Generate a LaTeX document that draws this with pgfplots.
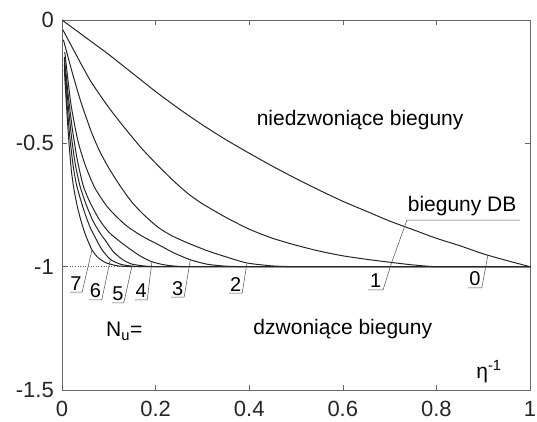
\documentclass[border=0pt]{standalone}
\usepackage{fontspec}
\setmainfont{Liberation Sans}
\usepackage{pgfplots}
\pgfplotsset{compat=1.18}
\tikzset{lbl/.style={anchor=base, inner sep=0pt, font=\fontsize{20}{22}\selectfont}}
\begin{document}
\begin{tikzpicture}
\fontsize{21}{24}\selectfont
\begin{axis}[
  scale only axis, width=468pt, height=370pt,
  xmin=0, xmax=1, ymin=-1.5, ymax=0,
  xtick={0,0.2,0.4,0.6,0.8,1}, xticklabels={0,0.2,0.4,0.6,0.8,1},
  ytick={-1.5,-1,-0.5,0}, yticklabels={-1.5,-1,-0.5,0},
  tick align=inside, major tick length=5pt,
  xtick pos=both, ytick pos=both,
  axis line style={black!60, line width=0.6pt},
  every tick/.style={black!60, line width=0.6pt},
  tick label style={font=\fontsize{22}{24}\selectfont, text=black!85},
  xticklabel style={yshift=-4pt},
  yticklabel style={xshift=-1pt},
  curve/.style={black!85, line width=1pt, no markers, smooth, tension=0.4},
  lead/.style={black!70, line width=0.5pt, no markers},
]
% dotted asymptote
\addplot[black!60, line width=0.6pt, dotted] coordinates {(0,-1) (1,-1)};
% curve 0
\addplot[curve] coordinates {(0,0)(0.05,-0.07)(0.1,-0.14)(0.15,-0.215)(0.2,-0.29)(0.25,-0.36)(0.3,-0.425)(0.35,-0.485)(0.4,-0.54)(0.45,-0.593)(0.5,-0.643)(0.55,-0.69)(0.6,-0.735)(0.65,-0.775)(0.7,-0.815)(0.75,-0.85)(0.8,-0.885)(0.85,-0.915)(0.9,-0.948)(0.95,-0.975)(1.0,-1.0)};
% curve 1
\addplot[curve] coordinates {(0.002,-0.04)(0.03,-0.14)(0.062,-0.25)(0.1,-0.355)(0.135,-0.44)(0.17,-0.52)(0.205,-0.59)(0.24,-0.655)(0.27,-0.705)(0.3,-0.745)(0.35,-0.8)(0.4,-0.848)(0.45,-0.885)(0.5,-0.913)(0.55,-0.937)(0.6,-0.956)(0.65,-0.97)(0.7,-0.982)(0.75,-0.993)(0.8,-1)(0.9,-1)(1,-1)};
% curve 2
\addplot[curve] coordinates {(0.003,-0.08)(0.02,-0.2)(0.04,-0.33)(0.062,-0.45)(0.08,-0.53)(0.1,-0.6)(0.125,-0.675)(0.15,-0.74)(0.175,-0.79)(0.205,-0.84)(0.235,-0.875)(0.27,-0.905)(0.31,-0.935)(0.35,-0.96)(0.395,-0.985)(0.45,-0.997)(0.5,-1)(0.6,-1)(1,-1)};
% curve 3
\addplot[curve] coordinates {(0.006,-0.13)(0.019,-0.34)(0.034,-0.49)(0.05,-0.59)(0.07,-0.68)(0.098,-0.76)(0.135,-0.83)(0.17,-0.875)(0.205,-0.91)(0.24,-0.945)(0.274,-0.972)(0.31,-0.99)(0.35,-0.998)(0.4,-1)(0.5,-1)(1,-1)};
% curve 4
\addplot[curve] coordinates {(0.005,-0.15)(0.013,-0.3)(0.022,-0.44)(0.032,-0.56)(0.045,-0.67)(0.06,-0.74)(0.08,-0.81)(0.1,-0.86)(0.125,-0.9)(0.15,-0.935)(0.17,-0.96)(0.192,-0.98)(0.22,-0.993)(0.26,-1)(0.35,-1)(1,-1)};
% curve 5
\addplot[curve] coordinates {(0.005,-0.16)(0.012,-0.32)(0.02,-0.47)(0.028,-0.58)(0.038,-0.67)(0.05,-0.74)(0.065,-0.81)(0.08,-0.86)(0.095,-0.9)(0.11,-0.94)(0.13,-0.972)(0.15,-0.99)(0.18,-0.998)(0.21,-1)(0.3,-1)(1,-1)};
% curve 6
\addplot[curve] coordinates {(0.005,-0.18)(0.01,-0.32)(0.016,-0.46)(0.023,-0.58)(0.03,-0.66)(0.04,-0.73)(0.05,-0.79)(0.06,-0.84)(0.072,-0.885)(0.085,-0.93)(0.103,-0.97)(0.125,-0.99)(0.15,-0.998)(0.18,-1)(0.25,-1)(1,-1)};
% curve 7
\addplot[curve] coordinates {(0.005,-0.2)(0.01,-0.36)(0.015,-0.5)(0.02,-0.61)(0.025,-0.68)(0.032,-0.75)(0.04,-0.81)(0.05,-0.87)(0.064,-0.932)(0.078,-0.965)(0.095,-0.985)(0.12,-0.997)(0.15,-1)(0.2,-1)(1,-1)};
% leader lines
\addplot[lead] coordinates {(0.017,-1.103)(0.043,-1.103)(0.064,-0.932)};
\addplot[lead] coordinates {(0.058,-1.135)(0.085,-1.135)(0.103,-0.973)};
\addplot[lead] coordinates {(0.107,-1.147)(0.132,-1.147)(0.150,-0.993)};
\addplot[lead] coordinates {(0.156,-1.135)(0.182,-1.135)(0.192,-0.982)};
\addplot[lead] coordinates {(0.233,-1.123)(0.261,-1.123)(0.274,-0.975)};
\addplot[lead] coordinates {(0.357,-1.107)(0.385,-1.107)(0.395,-0.988)};
\addplot[lead] coordinates {(0.654,-1.094)(0.686,-1.094)(0.705,-0.98)(0.737,-0.811)(0.979,-0.811)};
\addplot[lead] coordinates {(0.868,-1.086)(0.897,-1.086)(0.910,-0.953)};
% digit labels
\node[lbl] at (axis cs:0.030,-1.095) {7};
\node[lbl] at (axis cs:0.0715,-1.127) {6};
\node[lbl] at (axis cs:0.1195,-1.139) {5};
\node[lbl] at (axis cs:0.169,-1.127) {4};
\node[lbl] at (axis cs:0.247,-1.115) {3};
\node[lbl] at (axis cs:0.371,-1.099) {2};
\node[lbl] at (axis cs:0.670,-1.086) {1};
\node[lbl] at (axis cs:0.8825,-1.078) {0};
% text annotations
\node[anchor=base, inner sep=0pt] at (axis cs:0.637,-0.426) {niedzwoniące bieguny};
\node[anchor=base, inner sep=0pt] at (axis cs:0.855,-0.777) {bieguny DB};
\node[anchor=base, inner sep=0pt] at (axis cs:0.600,-1.277) {dzwoniące bieguny};
\node[anchor=base west, inner sep=0pt] at (axis cs:0.094,-1.285) {N\textsubscript{u}=};
\node[anchor=base west, inner sep=0pt] at (axis cs:0.885,-1.452) {η\textsuperscript{-1}};
\end{axis}
\pgfresetboundingbox
\path (-62pt,-32pt) rectangle (475pt,390pt);
\end{tikzpicture}
\end{document}
